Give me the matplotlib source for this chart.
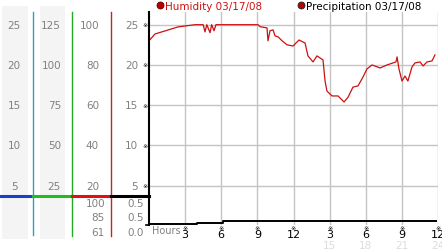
import matplotlib.pyplot as plt
from matplotlib.patches import Rectangle
from matplotlib.transforms import blended_transform_factory

# humidity (%), hours since midnight
hours = [0, 0.5, 1.33, 2.41, 3.82, 4.5, 4.65, 4.8, 5.07, 5.2, 5.4, 5.56, 9.05, 9.22,
         9.8, 9.88, 10.05, 10.3, 10.47, 10.71, 11.05, 11.46, 11.96, 12.46, 12.96, 13.2,
         13.62, 13.95, 14.45, 14.62, 14.78, 15.2, 15.7, 16.2, 16.53, 16.94, 17.36, 17.77,
         18.1, 18.52, 19.19, 19.77, 20.51, 20.6, 20.76, 21.01, 21.26, 21.5, 21.84, 22.09,
         22.51, 22.76, 23.09, 23.5, 23.75]
humidity = [92, 95.4, 96.9, 98.9, 100, 100, 96.4, 100, 96, 100, 97, 100, 100, 99,
            98.4, 92, 97, 97.4, 94.4, 94, 92, 90, 89.4, 92.4, 90.9, 84.5,
            81.5, 84.5, 82.5, 72, 67, 64.6, 64.6, 61.6, 64, 69, 69.6, 74,
            78, 80, 78.5, 80, 81.5, 84, 78, 72, 74.5, 72, 79, 81,
            81.5, 79.5, 81.5, 82, 85]

# precipitation (in)
precip_hours = [0, 4.0, 6.15, 23.84]
precip = [0.0, 0.01, 0.02, 0.02]

# left scale columns
levels = [100, 80, 60, 40, 20]
col1 = ['25', '20', '15', '10', '5']
col2 = ['125', '100', '75', '50', '25']
col3 = ['100', '80', '60', '40', '20']
col4 = ['25', '20', '15', '10', '5']
hum_stats = ['100', '85', '61']
precip_stats = ['0.5', '0.5', '0.0']

xticks = [3, 6, 9, 12, 15, 18, 21, 24]
xlabels = ['3', '6', '9', '12', '3', '6', '9', '12']
xlabels2 = ['15', '18', '21', '24']

W, H = 442, 253
fig = plt.figure(figsize=(W / 100, H / 100), dpi=100)

# overlay in pixel coords for decorations
ov = fig.add_axes([0, 0, 1, 1], zorder=0)
ov.set_xlim(0, W)
ov.set_ylim(H, 0)
ov.axis('off')

left, right, top, bottom = 149, 438, 13, 226
ax = fig.add_axes([left / W, 1 - bottom / H, (right - left) / W, (bottom - top) / H], zorder=2)
ax.patch.set_alpha(0)
ax.set_xlim(0, 24)
ax.set_ylim(0.5, 106.3)
for s in ['top', 'right', 'bottom']:
    ax.spines[s].set_visible(False)
ax.spines['left'].set_linewidth(1.5)
ax.set_xticks(xticks)
ax.set_yticks(levels)
ax.grid(True, color='#c4c4c4', linewidth=1)
ax.tick_params(length=0, labelleft=False, labelbottom=False)
ax.plot(hours, humidity, color='#cc1111', linewidth=0.9, clip_on=False)

ax2 = fig.add_axes([left / W, 1 - bottom / H, (right - left) / W, 29 / H], zorder=3)
ax2.patch.set_alpha(0)
ax2.set_xlim(0, 24)
ax2.set_ylim(-0.0108, 0.2308)
ax2.axis('off')
ax2.plot(precip_hours, precip, color='black', linewidth=1.4, drawstyle='steps-post')

# left columns
ov.add_patch(Rectangle((2, 7), 26, 233, color='#f4f4f4', lw=0))
ov.add_patch(Rectangle((40, 7), 25, 233, color='#f4f4f4', lw=0))
ov.plot([33, 33], [13, 236], color='#2a9fd0', lw=1)
ov.plot([72, 72], [13, 237], color='#22aa22', lw=1)
ov.plot([111, 111], [13, 237], color='#cc2222', lw=1)
ov.plot([0, 33], [197, 197], color='#1a3fd0', lw=2.2)
ov.plot([33, 72], [197, 197], color='#22bb22', lw=2.2)
ov.plot([72, 111], [197, 197], color='#dd1111', lw=2.2)
ov.plot([111, 149], [197, 197], color='black', lw=2.2)
ov.plot([146, 149], [225.5, 225.5], color='black', lw=1.2)

ty = blended_transform_factory(ov.transData, ax.transData)
gray = '#808080'
for lv, a, b, c, d in zip(levels, col1, col2, col3, col4):
    ov.text(14, lv, a, transform=ty, ha='center', va='center', fontsize=7.5, color=gray)
    ov.text(61, lv, b, transform=ty, ha='right', va='center', fontsize=7.5, color=gray)
    ov.text(99, lv, c, transform=ty, ha='right', va='center', fontsize=7.5, color=gray)
    ov.text(138, lv, d, transform=ty, ha='right', va='center', fontsize=7.5, color=gray)
    ov.text(145.5, lv, '\u203b', transform=ty, ha='center', va='center', fontsize=4.5, color='black')

for yy, a, b in zip([204, 218, 233], hum_stats, precip_stats):
    ov.text(105, yy, a, ha='right', va='center', fontsize=7.5, color=gray)
    ov.text(144, yy, b, ha='right', va='center', fontsize=7.5, color=gray)

# x labels
tx = blended_transform_factory(ax.transData, ov.transData)
ov.text(152, 231.5, 'Hours', ha='left', va='center', fontsize=7, color=gray)
for xt, lab in zip(xticks, xlabels):
    ax.text(xt, 229, '\u203b', transform=tx, ha='center', va='center', fontsize=4.5, color='black')
    ax.text(xt, 235, lab, transform=tx, ha='center', va='center', fontsize=8, color='black')
for xt, lab in zip(xticks[4:], xlabels2):
    ax.text(xt, 246, lab, transform=tx, ha='center', va='center', fontsize=7.5, color='#dcdcdc')

# legend
ov.plot([160], [6], 'o', markersize=5, markerfacecolor='#bb0000', markeredgecolor='#550000', markeredgewidth=0.6)
ov.text(165, 6.5, 'Humidity 03/17/08', ha='left', va='center', fontsize=7.5, color='#cc1111')
ov.plot([301], [6], 'o', markersize=5, markerfacecolor='#bb0000', markeredgecolor='#222222', markeredgewidth=0.6)
ov.text(306, 6.5, 'Precipitation 03/17/08', ha='left', va='center', fontsize=7.5, color='black')

fig.savefig('out.png', dpi=100)
